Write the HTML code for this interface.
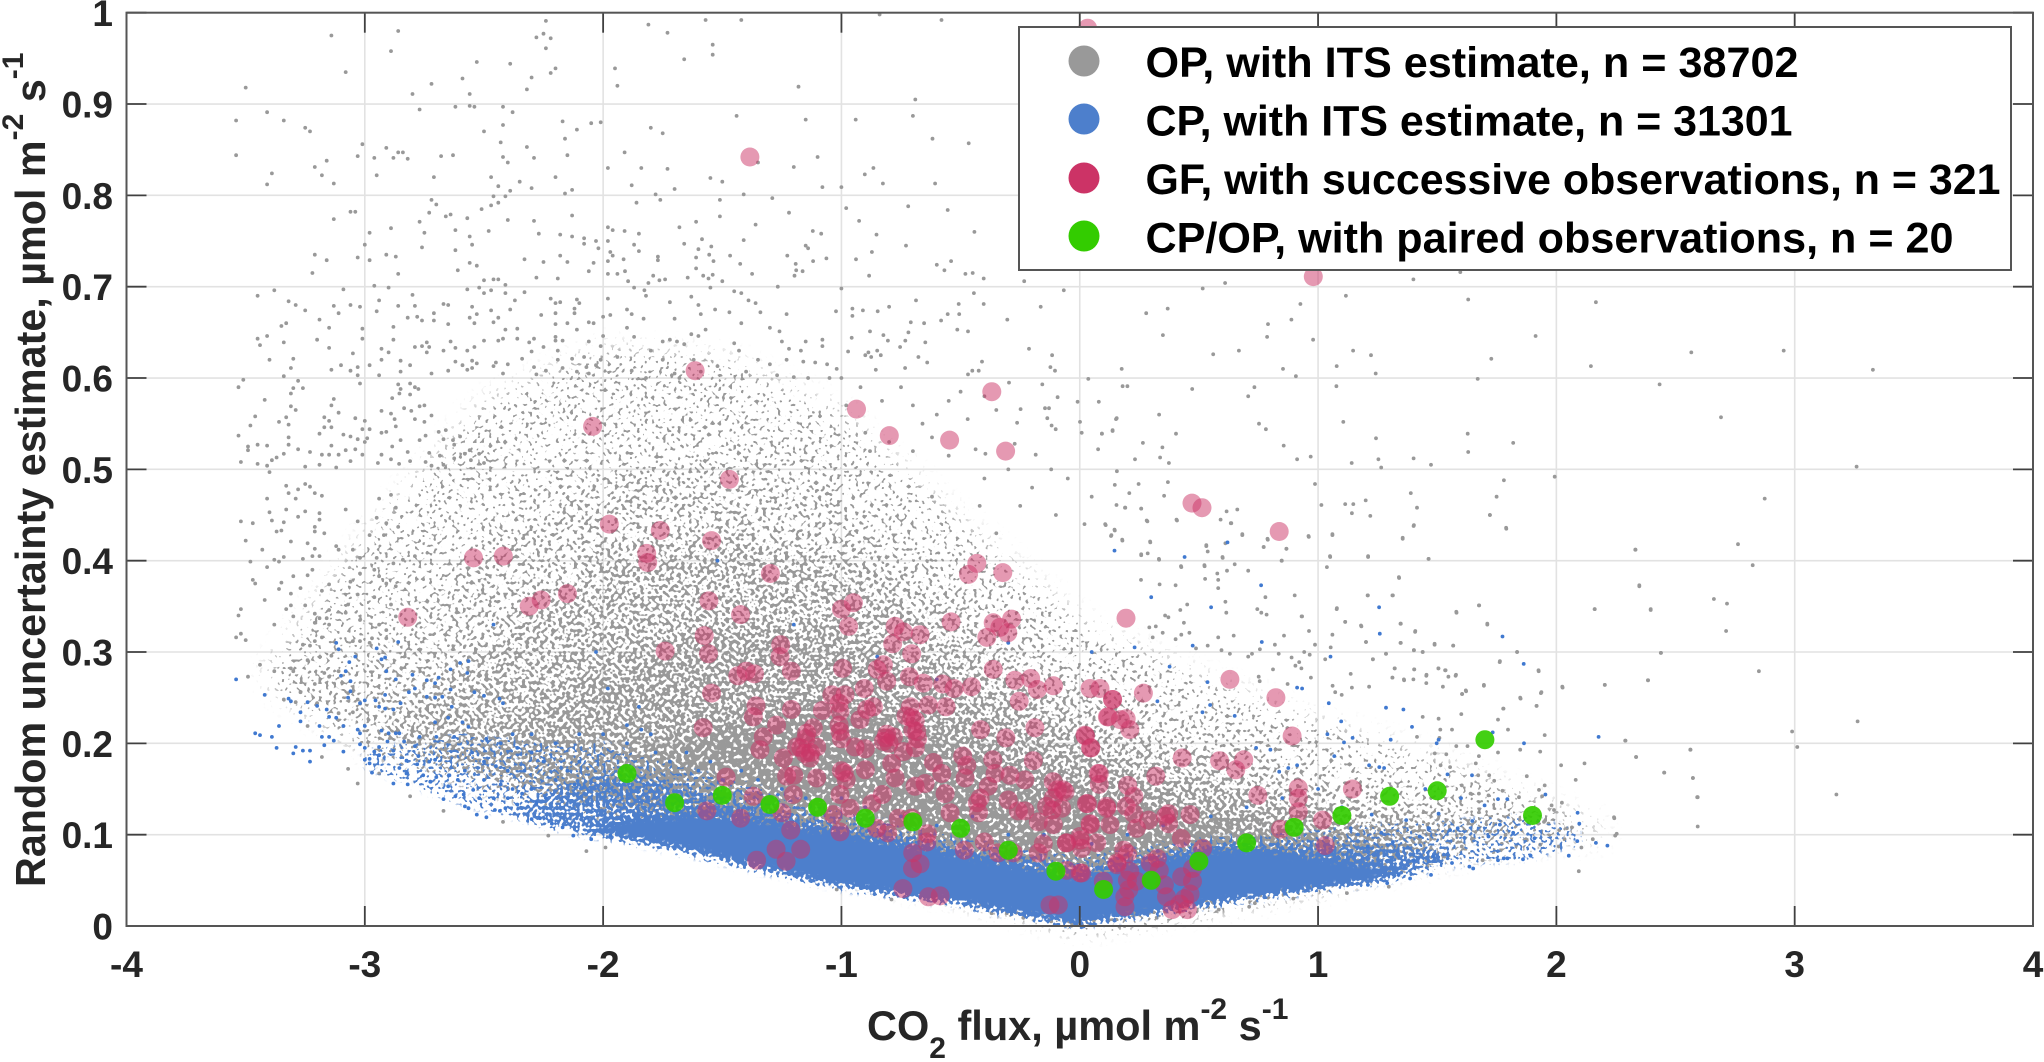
<!DOCTYPE html>
<html>
<head>
<meta charset="utf-8">
<title>Random uncertainty estimate vs CO2 flux</title>
<style>
html,body{margin:0;padding:0;background:#fff}
svg{display:block}
text{font-family:"Liberation Sans",sans-serif;font-weight:bold}
</style>
</head>
<body>
<svg id="chart" xmlns="http://www.w3.org/2000/svg" width="2044" height="1062" viewBox="0 0 2044 1062">
<defs>
<filter id="gray-dither" filterUnits="userSpaceOnUse" x="0" y="0" width="2044" height="1062" color-interpolation-filters="sRGB">
<feGaussianBlur in="SourceAlpha" stdDeviation="12" result="density"/>
<feTurbulence type="fractalNoise" baseFrequency="0.27" numOctaves="1" seed="7" result="noise"/>
<feColorMatrix in="noise" type="matrix" values="0 0 0 0 0  0 0 0 0 0  0 0 0 0 0  3 0 0 0 -1" result="noiseAlpha"/>
<feComposite in="density" in2="noiseAlpha" operator="arithmetic" k1="0" k2="1" k3="1" k4="-1" result="raw"/>
<feComponentTransfer in="raw" result="mask"><feFuncA type="linear" slope="7" intercept="0"/></feComponentTransfer>
<feFlood flood-color="#999999" result="ink"/>
<feComposite in="ink" in2="mask" operator="in"/>
</filter>
<filter id="blue-dither" filterUnits="userSpaceOnUse" x="0" y="0" width="2044" height="1062" color-interpolation-filters="sRGB">
<feGaussianBlur in="SourceAlpha" stdDeviation="3.5" result="density"/>
<feTurbulence type="fractalNoise" baseFrequency="0.3" numOctaves="1" seed="23" result="noise"/>
<feColorMatrix in="noise" type="matrix" values="0 0 0 0 0  0 0 0 0 0  0 0 0 0 0  3 0 0 0 -1" result="noiseAlpha"/>
<feComposite in="density" in2="noiseAlpha" operator="arithmetic" k1="0" k2="1.15" k3="1" k4="-1" result="raw"/>
<feComponentTransfer in="raw" result="mask"><feFuncA type="linear" slope="7" intercept="0"/></feComponentTransfer>
<feFlood flood-color="#4d7fcc" result="ink"/>
<feComposite in="ink" in2="mask" operator="in"/>
</filter>
</defs>
<g id="grid"></g>
<g id="bands-gray" filter="url(#gray-dither)"></g>
<g id="marks-gray"></g>
<g id="bands-blue" filter="url(#blue-dither)"></g>
<g id="marks-blue"></g>
<g id="marks-red"></g>
<g id="marks-green"></g>
<g id="axes"></g>

<text x="867" y="1040" font-size="41.5" fill="#262626">CO<tspan font-size="30" dy="18">2</tspan><tspan dy="-18"> flux, µmol m</tspan><tspan font-size="30" dy="-21">-2</tspan><tspan dy="21"> s</tspan><tspan font-size="30" dy="-21">-1</tspan></text>
<text transform="translate(45,887) rotate(-90)" font-size="41.3" fill="#262626">Random uncertainty estimate, µmol m<tspan font-size="30" dy="-22">-2</tspan><tspan dy="22"> s</tspan><tspan font-size="30" dy="-22">-1</tspan></text>

<g>
<rect x="1019" y="27" width="992" height="243" fill="#fff" stroke="#555" stroke-width="2"/>
<g><circle cx="1084" cy="61" r="15.5" fill="#999"/><text x="1145.5" y="77" font-size="43" fill="#000" textLength="653" lengthAdjust="spacingAndGlyphs">OP, with ITS estimate, n = 38702</text></g>
<g><circle cx="1084" cy="119" r="15.5" fill="#4d7fcc"/><text x="1145.5" y="135.5" font-size="43" fill="#000" textLength="647" lengthAdjust="spacingAndGlyphs">CP, with ITS estimate, n = 31301</text></g>
<g><circle cx="1084" cy="178" r="15.5" fill="#cc3366"/><text x="1145.5" y="194" font-size="43" fill="#000" textLength="855" lengthAdjust="spacingAndGlyphs">GF, with successive observations, n = 321</text></g>
<g><circle cx="1084" cy="236" r="15.5" fill="#33cc00"/><text x="1145.5" y="252.5" font-size="43" fill="#000" textLength="808" lengthAdjust="spacingAndGlyphs">CP/OP, with paired observations, n = 20</text></g>
</g>

<script>
const xTickLabels = ['-4','-3','-2','-1','0','1','2','3','4'];
const xTickValues = [-4,-3,-2,-1,0,1,2,3,4];
const yTickLabels = ['0','0.1','0.2','0.3','0.4','0.5','0.6','0.7','0.8','0.9','1'];
const yTickValues = [0,0.1,0.2,0.3,0.4,0.5,0.6,0.7,0.8,0.9,1];

const grayFluxStops = [-3.4,-3.0,-2.5,-2,-1.5,-1,-0.5,0,0.5,1,1.5,2,2.2];
const grayLower     = [0.27,0.2,0.16,0.13,0.1,0.065,0.04,0.005,0.025,0.05,0.08,0.1,0.1];
const grayLevel1Top = [0.28,0.42,0.57,0.63,0.62,0.56,0.44,0.33,0.27,0.22,0.18,0.125,0.105];
const grayLevel2Top = [0.27,0.28,0.42,0.5,0.52,0.47,0.37,0.27,0.22,0.17,0.14,0.11,0.1];
const grayLevel3Top = [0.27,0.2,0.3,0.4,0.43,0.4,0.31,0.225,0.18,0.14,0.115,0.1,0.1];
const grayLevel4Top = [0.27,0.2,0.2,0.28,0.33,0.32,0.25,0.18,0.145,0.115,0.1,0.1,0.1];
const grayLevel5Top = [0.27,0.2,0.16,0.17,0.22,0.24,0.19,0.145,0.12,0.1,0.08,0.1,0.1];

const blueFluxStops = [-3.0,-2.6,-2.3,-2,-1.7,-1.4,-1,-0.5,0,0.5,1,1.3,1.6,1.9,2.1];
const blueHaloTop   = [0.19,0.21,0.2,0.2,0.175,0.155,0.125,0.095,0.075,0.095,0.105,0.11,0.115,0.12,0.1];
const blueHaloLow   = [0.175,0.135,0.115,0.098,0.082,0.064,0.043,0.024,0.001,0.022,0.04,0.052,0.068,0.075,0.09];
const blueMidFlux   = [-2.4,-2.2,-2,-1.8,-1.5,-1.1,-0.6,0,0.6,1,1.3,1.55];
const blueMidTop    = [0.125,0.15,0.165,0.16,0.14,0.115,0.09,0.065,0.09,0.09,0.088,0.08];
const blueMidLow    = [0.125,0.108,0.098,0.09,0.072,0.048,0.028,0.001,0.026,0.04,0.052,0.07];
const blueCoreFlux  = [-2.1,-1.9,-1.6,-1.3,-1,-0.7,-0.5,-0.3,-0.1,0,0.1,0.3,0.5,0.7,1,1.2,1.4];
const blueCoreTop   = [0.105,0.118,0.122,0.115,0.1,0.088,0.078,0.068,0.058,0.053,0.058,0.072,0.082,0.084,0.075,0.068,0.058];
const blueCoreLow   = [0.105,0.096,0.08,0.06,0.043,0.031,0.024,0.014,0.005,0.001,0.006,0.014,0.022,0.03,0.04,0.047,0.058];

const grayPoints = [
[-3.5,.918],[-3.14,.975],[-3.08,.935],[-2.86,.98],[-2.89,.958],[-3.54,.882],[-3.54,.844],[-3.41,.891],[-3.34,.882],[-3.25,.874],[-3.23,.87],[-3.41,.812],[-3.39,.824],[-3.21,.831],[-3.16,.838],[-3.18,.822],[-3.13,.813],[-3.03,.843],[-3.01,.856],[-2.96,.841],[-2.91,.852],[-2.88,.841],[-2.86,.847],[-2.84,.847],[-2.82,.84],[-2.95,.822],[-2.71,.82],[-2.68,.843],[-2.63,.844],[-2.8,.911],[-2.77,.894],[-2.72,.922],[-2.62,.897],[-2.59,.928],[-2.56,.898],[-2.56,.911],[-2.54,.897],[-2.53,.946],[-2.39,.944],[-2.42,.897],[-2.38,.891],[-2.42,.877],[-2.5,.87],[-2.43,.858],[-2.32,.853],[-2.42,.842],[-2.4,.836],[-2.29,.841],[-2.15,.844],[-2.16,.862],[-2.17,.881],[-2.11,.872],[-2.05,.879],[-2.01,.88],[-2.32,.916],[-2.3,.929],[-2.22,.934],[-2.2,.939],[-2.24,.961],[-2.22,.972],[-2.25,.977],[-2.28,.973],[-2.24,.991],[-1.95,.939],[-1.94,.92],
[-2.47,.82],[-2.44,.81],[-2.39,.805],[-2.35,.815],[-2.3,.808],[-2.2,.82],[-2.16,.802],[-2.13,.806],[-1.98,.83],
[-3.13,.774],[-3.06,.782],[-3.04,.782],[-3.21,.735],[-3.16,.729],[-3.22,.715],[-2.98,.759],[-3.0,.746],[-3.03,.732],[-2.98,.729],[-2.89,.764],[-2.91,.735],[-2.87,.733],[-2.86,.714],[-2.77,.771],[-2.75,.759],[-2.76,.743],[-2.73,.781],[-2.72,.795],[-2.7,.79],[-2.66,.777],[-2.64,.779],[-2.62,.762],[-2.62,.74],[-2.61,.718],[-2.57,.775],[-2.56,.755],[-2.55,.746],[-2.51,.785],[-2.48,.761],[-2.47,.789],[-2.44,.792],[-2.46,.799],[-2.41,.799],[-2.4,.773],[-2.29,.772],[-2.27,.758],[-2.13,.778],[-2.18,.757],[-2.13,.755],[-2.08,.753],[-2.08,.747],[-2.03,.75],[-2.02,.742],[-1.98,.75],[-1.98,.765],[-1.96,.762],[-1.97,.738],[-1.96,.734],[-1.98,.728],[-2.04,.726],[-2.06,.717],[-2.18,.734],[-2.15,.727],[-2.25,.727],[-2.33,.73],[-2.56,.726],[-2.53,.723],[-2.28,.71],[-2.19,.709],[-2.5,.707],[-2.46,.708],[-2.44,.708],[-2.41,.702],[-1.98,.714],[-1.94,.714],
[-3.45,.69],[-3.38,.696],[-3.32,.684],[-3.29,.68],[-3.25,.674],[-3.13,.679],[-3.11,.671],[-3.09,.697],[-3.06,.68],[-3.02,.678],[-2.96,.701],[-2.94,.685],[-2.95,.673],[-2.9,.699],[-2.86,.679],[-2.79,.679],[-2.8,.691],[-2.82,.666],[-2.78,.667],[-2.76,.663],[-2.71,.671],[-2.71,.663],[-2.67,.681],[-2.65,.68],[-2.65,.659],[-2.57,.697],[-2.55,.678],[-2.52,.699],[-2.5,.693],[-2.47,.696],[-2.41,.693],[-2.33,.694],[-2.37,.685],[-2.39,.675],[-2.47,.674],[-2.44,.666],[-2.53,.67],[-2.56,.666],[-2.54,.66],[-2.46,.661],[-2.22,.687],[-2.2,.682],[-2.18,.683],[-2.11,.686],[-2.1,.682],[-2.12,.676],[-2.12,.671],[-2.26,.669],[-2.2,.671],[-1.98,.687],[-2,.667],[-1.97,.669],[-2.06,.661],[-2.04,.66],[-2.15,.66],[-2.2,.659],
[-3.45,.643],[-3.44,.636],[-3.41,.646],[-3.34,.639],[-3.35,.657],[-3.33,.66],[-3.19,.664],[-3.15,.655],[-3.2,.642],[-3.15,.633],[-3.4,.62],[-3.3,.621],[-3.31,.611],[-3.34,.602],[-3.14,.609],[-3.1,.614],[-3.06,.608],[-3.03,.612],[-3.03,.603],[-3.05,.627],[-3.01,.654],[-3.01,.643],[-2.98,.614],[-2.93,.632],[-2.93,.62],[-2.88,.656],[-2.88,.642],[-2.9,.628],[-2.85,.619],[-2.81,.614],[-2.85,.607],[-2.94,.603],[-2.79,.634],[-2.76,.635],[-2.74,.639],[-2.73,.634],[-2.74,.628],[-2.67,.63],[-2.64,.64],[-2.62,.633],[-2.57,.63],[-2.54,.634],[-2.62,.618],[-2.59,.614],[-2.55,.619],[-2.53,.616],[-2.55,.611],[-2.57,.609],[-2.65,.608],[-2.72,.605],[-2.5,.641],[-2.44,.641],[-2.42,.643],[-2.41,.653],[-2.36,.654],[-2.36,.643],[-2.31,.639],[-2.29,.643],[-2.3,.629],[-2.25,.634],[-2.34,.621],[-2.4,.615],[-2.45,.617],[-2.46,.613],[-2.42,.605],[-2.29,.612],[-2.28,.604],[-2.24,.608],[-2.2,.645],[-2.2,.641],[-2.17,.641],[-2.06,.64],[-2.11,.653],[-2.19,.63],[-2.19,.62],[-2.13,.621],[-2.08,.623],[-2.01,.62],[-2.01,.635],[-2,.646],[-2.07,.612],[-2.03,.614],[-2.17,.611],[-2.06,.605],[-2.11,.607],[-1.94,.623],
[-3.53,.59],[-3.51,.598],[-3.28,.597],[-3.30,.589],[-3.26,.589],[-3.31,.583],[-3.42,.576],[-3.13,.577],[-3.14,.57],[-3.31,.569],[-3.29,.565],[-3.46,.558],[-3.33,.557],[-3.48,.548],[-3.36,.552],[-3.32,.549],[-3.53,.537],[-3.32,.535],[-3.45,.527],[-3.41,.526],[-3.32,.527],[-3.49,.525],[-3.49,.521],[-3.28,.522],[-3.34,.517],[-3.37,.513],[-3.39,.51],[-3.52,.508],[-3.45,.506],[-3.41,.504],[-3.23,.519],[-3.25,.503],[-3.19,.539],[-3.17,.546],[-3.17,.557],[-3.15,.553],[-3.14,.546],[-3.11,.562],[-3.09,.538],[-3.06,.536],[-3.03,.533],[-3,.53],[-3.14,.526],[-3.18,.516],[-3.15,.516],[-3.11,.516],[-3.08,.521],[-3.04,.522],[-3.01,.516],[-3.06,.509],[-3.19,.505],[-3.12,.502],[-2.99,.534],[-2.98,.544],[-3.01,.544],[-3,.553],[-3.04,.556],[-3.02,.594],[-2.86,.593],[-2.85,.588],[-2.81,.594],[-2.79,.59],[-2.775,.588],[-2.855,.583],[-2.81,.582],[-2.885,.578],[-2.835,.567],[-2.93,.564],[-2.89,.561],[-2.805,.564],[-2.77,.569],[-2.75,.57],[-2.72,.559],[-2.875,.555],[-2.79,.555],[-2.75,.552],[-2.87,.547],[-2.93,.54],[-2.91,.541],[-2.85,.532],[-2.745,.537],[-2.77,.532],[-2.69,.541],[-2.66,.543],[-2.67,.533],[-2.63,.532],[-2.6,.536],[-2.625,.527],[-2.885,.525],[-2.82,.519],[-2.93,.516],[-2.89,.511],[-2.81,.509],[-2.945,.507],[-2.856,.506],[-2.73,.518],[-2.685,.515],[-2.745,.508],[-2.72,.504],[-2.67,.505],[-2.625,.512],[-2.58,.517],[-2.56,.521],[-2.52,.517],[-2.555,.51],[-2.5,.507],
[-3.4,.497],[-3.33,.482],[-3.32,.474],[-3.28,.478],[-3.25,.484],[-3.23,.481],[-3.21,.474],[-3.18,.471],[-3.41,.468],[-3.29,.468],[-3.4,.453],[-3.39,.444],[-3.52,.443],[-3.47,.441],[-3.37,.432],[-3.34,.442],[-3.35,.433],[-3.33,.456],[-3.28,.448],[-3.25,.454],[-3.19,.452],[-3.19,.445],[-3.21,.437],[-3.21,.432],[-3.17,.43],[-3.5,.422],[-3.31,.421],[-3.24,.419],[-3.43,.412],[-3.21,.413],[-3.12,.416],[-3.11,.412],[-3.48,.399],[-3.38,.401],[-3.36,.399],[-3.34,.404],[-3.26,.402],[-3.22,.405],[-3.19,.405],[-3.41,.393],[-3.22,.39],[-3.24,.384],[-3.3,.383],[-3.47,.379],[-3.46,.375],[-3.35,.376],[-3.36,.369],[-3.27,.37],[-3.18,.367],[-3.15,.374],[-3.42,.357],[-3.31,.364],[-3.31,.351],[-3.33,.347],[-3.25,.351],[-3.15,.346],[-3.52,.347],[-3.53,.34],[-3.3,.339],[-3.21,.342],[-3.16,.337],[-3.19,.337],[-3.38,.33],[-3.21,.332],[-3.15,.33],[-3.52,.32],[-3.54,.316],[-3.5,.313],[-3.18,.316],[-3.21,.312],[-3.26,.308],[-3.23,.307],[-3.14,.296],[-3.24,.291],[-3.44,.286],[-3.38,.279],[-3.31,.282],[-3.3,.279],[-3.49,.273],[-3.17,.277],[-3.15,.273],[-3.11,.279],[-3.21,.265],[-3.27,.256],[-3.34,.248],[-3.29,.245],[-3.2,.244],[-3.11,.233],[-3.05,.257],[-3.07,.255],[-3.03,.248],[-3.24,.219],[-3.09,.219],[-3.05,.234],[-3.18,.185],[-3.07,.172],[-3.03,.156],[-2.94,.167],[-2.81,.142],[-2.67,.126],[-2.42,.114],[-2.23,.099],[-2.07,.082],[-1.99,.086],
[-3.08,.456],[-3.03,.443],[-2.95,.447],[-2.91,.441],[-2.87,.458],[-2.89,.472],[-2.94,.468],[-2.98,.428],[-2.92,.428],[-2.86,.437],[-3.05,.412],[-3.02,.403],[-2.95,.403],[-2.88,.397],[-2.84,.401],[-2.79,.405],[-3.02,.386],[-2.96,.39],[-2.94,.383],[-2.91,.375],[-2.87,.372],[-3.06,.377],[-3.03,.363],[-2.96,.36],[-2.89,.352],[-3.07,.352],[-3.08,.343],[-3.02,.335],[-2.94,.33],[-2.91,.324],[-2.87,.339],[-2.97,.315],[-2.91,.315],[-3.05,.312],[-3.02,.312],[-2.98,.31],
[-1.81,.987],[-1.73,.978],[-1.57,.992],[-1.42,.992],[-1.66,.949],[-1.54,.965],[-1.54,.954],[-1.18,.919],[-.84,.998],[-.58,.992],[-.69,.905],[-.7,.887],[-.94,.883],[-1.15,.883],[-1.44,.887],[-1.8,.874],[-1.75,.868],[-1.91,.847],[-1.84,.83],[-1.73,.829],[-1.88,.811],[-1.7,.807],[-1.78,.801],[-1.76,.795],[-1.86,.792],[-1.55,.819],[-1.5,.815],[-1.41,.801],[-1.51,.795],[-1.51,.777],[-1.35,.836],[-1.2,.831],[-1.1,.842],[-1.08,.809],[-1,.809],[-1.29,.797],[-1.22,.781],[-1.36,.768],[-1.61,.771],[-1.68,.765],[-1.91,.761],[-1.85,.758],[-1.66,.747],[-1.585,.752],[-1.6,.741],[-1.546,.744],[-1.41,.751],[-1.555,.735],[-1.537,.728],[-1.61,.732],[-1.467,.734],[-1.425,.725],[-1.61,.72],[-1.58,.712],[-1.54,.713],[-1.558,.709],[-1.375,.714],[-1.645,.71],[-1.5,.706],[-1.55,.699],[-1.74,.708],[-1.764,.707],[-1.79,.712],[-1.81,.704],[-1.87,.699],[-1.827,.696],[-1.895,.706],[-1.908,.717],[-1.914,.73],[-1.87,.746],[-1.85,.739],[-1.77,.733],[-1.77,.729],[-1.12,.761],[-1.085,.758],[-1.15,.745],[-1.14,.742],[-1.227,.734],[-1.063,.731],[-1.192,.725],[-1.119,.728],[-1.19,.718],[-1.163,.717],[-1.197,.712],[-1.267,.7],[-1,.698],[-.98,.786],[-.926,.772],[-.853,.757],[-.72,.788],[-.554,.784],[-.442,.76],[-.729,.745],[-.872,.738],[-.939,.73],[-.884,.712],[-.6,.724],[-.568,.718],[-.54,.728],[-.48,.714],[-.449,.715],[-.403,.709],[-.233,.706],[-.067,.696],[-.618,.862],[-.466,.857],[-.902,.823],[-.866,.83],[-.826,.813],[-.607,.813],[-.444,.693],[-.403,.681],[-.508,.681],[-.506,.67],[-.554,.67],[-.582,.663],[-.687,.685],[-.8,.678],[-.848,.673],[-.91,.674],[-.954,.676],[-.954,.668],[-1.023,.673],[-.304,.664],[-.164,.678],[-.514,.653],[-.469,.651],[-.709,.661],[-.653,.66],[-.719,.65],[-.88,.651],[-.957,.644],[-.824,.647],[-.805,.641],[-.732,.641],[-.648,.639],[-.754,.634],[-.213,.632],[-.116,.625],[-.41,.618],[-.677,.623],[-.64,.617],[-.733,.611],[-.856,.609],[-.972,.629],[-.9,.625],[-.887,.628],[-.875,.623],[-.85,.63],[-.835,.625],[-.123,.612],[-.104,.608],[.036,.599],[-.451,.608],[-.469,.604],[-.424,.608],
[-1.82,.69],[-1.72,.683],[-1.7,.665],[-1.63,.689],[-1.6,.68],[-1.59,.67],[-1.45,.695],[-1.42,.693],[-1.39,.685],[-1.36,.682],[-1.34,.672],[-1.23,.67],[-1.53,.675],[-1.47,.672],[-1.42,.66],[-1.3,.655],[-1.26,.651],[-1.25,.64],[-1.9,.675],[-1.88,.67],[-1.83,.665],[-1.9,.655],[-1.87,.645],[-1.75,.64],[-1.72,.642],[-1.69,.64],[-1.63,.648],[-1.6,.646],[-1.57,.653],[-1.8,.63],[-1.66,.637],[-1.45,.638],[-1.43,.63],[-1.22,.632],[-1.17,.63],[-1.15,.64],[-1.08,.642],[-1.08,.635],[-1.16,.618],[-1.11,.617],[-1.06,.615],[-1.23,.62],[-1.3,.615],[-1.35,.62],[-1.4,.607],[-1.52,.613],[-1.59,.607],[-1.62,.62],[-1.75,.62],[-1.82,.6],[-1.88,.608],[-1.7,.605],[-1.68,.6],[-1.27,.603],[-1.2,.601],[-1.14,.6],[-1.05,.6],[-1.02,.61],[-1,.6],
[.61,.704],[.516,.698],[.279,.671],[.369,.676],[.349,.647],[.56,.626],[.668,.63],[.786,.645],[.79,.659],[.888,.664],[.926,.681],[.979,.642],[1.117,.69],[1.4,.708],[1.597,.716],[1.63,.686],[2.166,.683],[1.913,.646],[2.145,.613],[1.727,.621],[1.67,.599],[1.242,.605],[1.222,.625],[1.147,.63],[1.078,.613],[1.077,.591],[.907,.602],[.853,.61],[.733,.59],[.707,.58],[.472,.588],[.176,.61],[.18,.591],[.2,.591],[.152,.555],[.138,.542],[.093,.539],[.333,.56],[.404,.539],[.265,.529],[.347,.524],[.232,.511],[.337,.513],[.374,.507],[.752,.55],[.781,.544],[.856,.526],[.912,.511],[.969,.514],[1.106,.552],[1.243,.534],[1.141,.507],[1.253,.511],[1.265,.502],[1.401,.512],[1.474,.505],[1.628,.539],[1.63,.519],[1.819,.529],[1.993,.492],[1.78,.488],[1.749,.47],[1.721,.45],[1.79,.435],[1.389,.474],[1.415,.458],[1.401,.438],[1.355,.424],[1.464,.402],[1.21,.404],[1.2,.466],[1.114,.462],[1.148,.462],[1.142,.452],[1.219,.449],[1.014,.461],[.987,.484],[1.06,.428],[.961,.426],[1.051,.404],[1.037,.393],[1.34,.381],[1.208,.362],[1.312,.362],[1.675,.351],[1.581,.343],[1.71,.33],[2.161,.347],[1.078,.347],[1.114,.333],[1.182,.328],[1.346,.331],[1.407,.322],[1.201,.311],[1.346,.31],[1.489,.308],[1.567,.307],[1.835,.3],[1.762,.289],[1.926,.279],[1.696,.263],[2.026,.261],[1.935,.255],[1.85,.249],[1.917,.241],[1.777,.238],[1.505,.282],[1.533,.28],[1.547,.273],[1.577,.274],[1.454,.274],[1.404,.281],[1.321,.282],[1.312,.272],[1.361,.269],[1.4,.27],[1.454,.266],[1.524,.262],[1.214,.262],[1.142,.261],[1.137,.276],[1.072,.256],[1.099,.253],[1.061,.263],[1.621,.257],[1.605,.254],[1.23,.292],[1.285,.298],[1.402,.302],[1.439,.3],[1.06,.319],[1.053,.305],[1.03,.292],[.987,.308],[.962,.323],[.931,.339],[.902,.362],[.847,.4],[.867,.413],[.789,.423],[.772,.415],[.682,.428],[.636,.441],[.661,.456],[.616,.454],[.591,.445],[.611,.419],[.531,.416],[.537,.41],[.6,.403],[.65,.396],[.707,.389],[.618,.389],[.577,.386],[.581,.379],[.524,.394],[.426,.393],[.333,.401],[.285,.408],[.258,.406],[.296,.42],[.258,.457],[.19,.458],[.154,.461],[.208,.474],[.247,.484],[.147,.483],[.156,.498],[.37,.486],[.354,.471],[.408,.444],[.281,.444],[.109,.439],[.147,.433],[.131,.427],[.179,.422],[.257,.379],[.335,.374],[.402,.373],[.526,.38],[.581,.37],[.779,.36],[.745,.347],[.762,.343],[.784,.341],[.933,.339],[.611,.355],[.615,.343],[.451,.352],[.422,.346],[.437,.332],[.46,.321],[.358,.34],[.372,.338],[.292,.327],[.319,.328],[.348,.321],[.306,.316],[.402,.314],[.426,.319],[.581,.316],[.646,.318],[.819,.308],[.857,.318],[.595,.302],[.537,.307],[.488,.304],[.756,.303],[.723,.298],[.835,.298],[.63,.298],[.707,.295],[.889,.294],[.942,.3],[.965,.297],[.921,.289],[.905,.285],[.93,.282],[.811,.281],[.751,.273],[.755,.268],[.97,.272],[.872,.265],
[-.297,.595],[-.157,.593],[-.093,.579],[-.009,.574],[.08,.574],[.155,.556],[-.248,.566],[-.146,.567],[-.129,.567],[-.136,.556],[-.118,.548],[-.101,.544],[-.263,.551],[.001,.552],[.008,.54],[.093,.539],[.138,.543],[.077,.522],[-.185,.516],[-.273,.528],[-.396,.517],[-.437,.522],[-.6,.56],[-.55,.575],[-.5,.585],[-.47,.555],[-.75,.59],[-.7,.57],[-.66,.55],[-.62,.535],[-.83,.575],[-.92,.59],[-.98,.57],[-.4,.58],[-.35,.565],[-.7,.52],[-.55,.515],[-.8,.53],[-.9,.54],[-.88,.52],[-.3,.5],[-.2,.48],[-.12,.5],[-.05,.49],[.05,.47],[-.4,.49],[-.25,.46],[-.1,.45],[.02,.44],[-.35,.43],[-.42,.46],[-.62,.47],
[.107,.44],[.191,.458],[.258,.457],[.406,.445],[.284,.443],[.146,.434],[.178,.423],[.295,.421],[.133,.428],[.258,.407],[.332,.402],[.425,.394],[.523,.395],[.599,.404],[.531,.417],[.634,.441],[.682,.429],[.772,.415],[.867,.413],[.788,.424],[.848,.4],[.96,.427],[1.06,.429],[1.05,.405],[1.21,.405],[1.355,.425],[1.402,.439],[1.464,.402],[1.721,.45],[1.789,.436],[2.332,.412],[2.348,.372],[2.161,.347],[2.396,.347],[2.439,.299],[2.385,.269],[2.203,.264],[2.025,.262],[1.925,.28],[1.937,.256],[1.848,.25],[1.917,.241],[1.778,.238],[1.755,.226],[1.797,.215],[1.951,.209],[2.29,.203],[2.335,.185],[2.563,.193],[2.452,.168],[2.573,.162],[2.593,.141],[2.593,.109],[2.118,.178],[2.02,.176],[2.081,.16],[2.243,.118],[2.253,.101],[2.247,.099],[2.153,.095],[2.105,.086],[2.01,.087],[2.094,.06],[2.044,.107],[2.012,.105],[2.065,.108],[2.034,.095],[1.967,.112],[1.99,.127],[2.023,.135],[1.951,.154],[1.876,.164],[1.932,.191],[1.848,.193],[1.755,.19],[1.676,.351],[1.71,.331],[1.58,.344],[1.763,.29],[1.835,.3],[1.489,.309],[1.567,.307],[1.408,.323],[1.402,.302],[1.439,.3],[1.347,.31],[1.347,.331],[1.314,.362],[1.339,.382],[1.209,.362],[1.079,.348],[1.114,.333],[1.18,.329],[1.201,.311],[1.285,.298],[1.23,.292],[1.322,.282],[1.312,.272],[1.36,.27],[1.403,.281],[1.455,.275],[1.505,.282],[1.535,.28],[1.579,.275],[1.604,.254],[1.62,.258],[1.696,.264],[1.601,.232],[1.439,.229],[1.506,.227],[1.513,.215],[1.562,.215],[1.509,.206],[1.415,.207],[1.627,.197],[1.58,.197],[1.49,.189],[1.538,.188],[1.675,.186],[1.662,.178],[1.672,.165],[1.718,.165],[1.739,.159],[1.514,.176],[1.554,.174],[1.603,.154],[1.64,.145],[1.675,.145],[1.715,.143],[1.774,.148],[1.843,.141],[1.927,.149],[1.94,.142],[1.98,.132],[1.948,.114],[1.932,.089],[1.876,.094],[1.787,.1],[1.771,.09],[1.691,.072],[1.603,.087],[1.53,.076],[1.458,.065],[1.386,.069],[1.297,.043],[1.121,.036],[.896,.03],[.735,.025],[.711,.021],[.583,.018],[.323,.009],
[2.566,.628],[2.954,.63],[3.328,.609],[2.433,.593],[2.691,.557],[3.26,.503],[2.874,.468],[2.331,.412],[2.762,.418],[2.824,.395],[2.348,.373],[2.661,.358],[2.716,.353],[2.396,.346],[2.712,.323],[2.438,.299],[2.85,.279],[2.384,.269],[2.203,.264],[2.989,.213],[3.264,.224],[3.011,.196],[2.289,.203],[2.562,.193],[2.334,.185],[2.453,.168],[2.573,.162],[2.591,.141],[3.175,.144],[2.242,.119],
[-1.02,.04],[-.79,.029],[-.37,.014],[-.306,.014],[-.237,.009],[-.12,.005]
];

const bluePoints = [
[-3.12,.31],[-3.11,.303],[-3.54,.27],[-3.42,.253],[-3.32,.249],[-3.31,.246],[-3.24,.245],[-3.2,.241],[-3.27,.234],[-3.16,.237],[-3.15,.229],[-3.12,.228],[-3.27,.224],[-3.19,.219],[-3.36,.219],[-3.46,.211],[-3.44,.209],[-3.39,.207],[-3.37,.195],[-3.29,.196],[-3.3,.189],[-3.26,.192],[-3.23,.192],[-3.23,.18],[-3.18,.207],[-3.15,.207],[-3.13,.203],[-3.17,.198],[-3.09,.219],[-3.09,.191],[-3.03,.215],[-3.02,.211],[-3,.219],[-3.02,.199],[-3,.195],[-3,.182],[-2.98,.178],[-2.98,.183],[-2.96,.191],[-2.94,.196],[-2.94,.187],[-2.97,.168],[-2.93,.214],[-2.9,.211],[-2.87,.211],[-2.855,.211],[-2.905,.202],[-2.88,.192],[-2.835,.202],[-2.79,.197],[-2.88,.237],[-2.94,.24],[-2.915,.238],[-2.85,.244],[-2.955,.247],[-2.915,.253],[-2.815,.256],[-2.79,.26],[-2.87,.27],[-2.8,.275],[-2.91,.279],[-2.93,.292],[-2.915,.294],[-3.04,.295],[-3.065,.289],[-3.08,.279],[-3.1,.274],[-3.06,.268],[-3.07,.25],[-3.06,.257],[-3.02,.244],[-3.0,.247],[-2.86,.311],[-2.95,.304],[-2.74,.269],[-2.705,.266],[-2.69,.272],[-2.74,.251],[-2.705,.25],[-2.675,.251],[-2.64,.259],[-2.57,.277],[-2.64,.281],[-2.6,.288],[-2.565,.29],[-2.54,.256],[-2.5,.252],[-2.435,.249],[-2.42,.244],[-2.635,.24],[-2.705,.223],[-2.65,.228],[-2.59,.223],[-2.7,.207],[-2.625,.207],[-2.565,.218],[-2.77,.207],[-2.775,.186],[-2.825,.181],[-2.78,.177],[-2.73,.18],[-2.705,.182],[-2.855,.173],[-2.825,.167],[-2.755,.165],[-2.7,.163],[-2.88,.156],[-2.82,.155],[-2.725,.158],[-2.65,.153],[-2.645,.165],[-2.61,.16],[-2.545,.149],[-2.62,.142],[-2.585,.144],[-2.67,.139],[-2.58,.131],[-2.565,.129],[-2.53,.122],[-2.49,.119],[-2.454,.127],[-2.433,.126],[-2.41,.129],[-2.36,.133],[-2.3,.117],[-2.265,.118],[-2.215,.112],[-2.17,.108],[-2.125,.099],[-2.05,.095],[-1.97,.099],
[-2.49,.205],[-2.43,.2],[-2.38,.21],[-2.36,.195],[-2.3,.19],[-2.25,.18],[-2.55,.19],[-2.5,.18],[-2.45,.175],[-2.4,.17],[-2.33,.17],[-2.58,.17],[-2.5,.16],[-2.43,.155],[-2.38,.15],[-2.52,.14],[-2.46,.14],[-2.4,.14],[-2.34,.145],[-2.3,.15],[-2.28,.135],[-2.24,.14],[-2.2,.16],[-2.15,.17],[-2.12,.155],[-2.1,.18],[-2.3,.21],[-2.2,.2],[-2.1,.21],[-2.0,.21],[-1.9,.2],[-2.46,.33],[-2.03,.3],[-1.98,.26],[-1.85,.24],[-1.8,.21],
[.146,.411],[.44,.404],[.761,.373],[.551,.349],[1.256,.349],[1.259,.32],[.764,.311],[1.774,.317],[.23,.305],[.474,.307],[1.863,.287],[1.052,.295],[.377,.284],[.536,.267],[.912,.261],[.933,.26],[1.045,.244],[1.285,.239],[1.358,.237],[.547,.242],[.326,.246],[.515,.234],[.65,.23],[1.394,.218],[1.097,.224],[2.177,.207],[1.864,.2],[1.733,.212],[1.506,.204],[1.498,.2],[1.305,.204],[1.145,.206],[1.109,.201],[1.039,.21],[1.068,.186],[1.214,.176],[1.257,.174],[1.277,.173],[1.543,.166],[1.646,.165],[.875,.173],[.912,.176],[.837,.169],[.8,.193],[.74,.195],[1.954,.144],[1.755,.139],[1.794,.139],[1.699,.132],[2.089,.124],[2.096,.112],[2.088,.093],[2.166,.091],[2.214,.088],[2.052,.077],[1.892,.077],[1.86,.073],[1.795,.074],[1.755,.072],[1.779,.074],[1.651,.063],[1.635,.065],[1.562,.069],[1.474,.056],[1.386,.052],[1.338,.056],[1.209,.045],[1.29,.047],[1.402,.072],[1.482,.076],[1.554,.105],[1.586,.107],[1.647,.115],[1.715,.098],[1.763,.111],[1.819,.102],[1.908,.096],[1.506,.123],[1.466,.107],[1.426,.098],[1.37,.116],[1.314,.092],[1.265,.102],[1.225,.122],[1.137,.107],[1.209,.087],
[-1.9,.22],[-1.84,.215],[-1.78,.19],[-1.72,.18],[-1.65,.19],[-1.6,.17],[-1.55,.18],[-1.5,.16],[-1.42,.17],[-1.35,.16],[-1.25,.15],[-1.15,.14],[-1,.14],[-.9,.13],[-.75,.12],[-.6,.11],[-.45,.12],[-.3,.1],[-.15,.1],[.05,.09],[.2,.1],[.35,.11],[.55,.12],[.7,.13],[.85,.14],[1,.15],[1.1,.13],[1.45,.15],[1.6,.14],
[-1.52,.4],[-1.2,.33],[-.85,.295],[-.6,.27],[-.3,.31],[.05,.3],[.3,.36],[.62,.42]
];

const redPoints = [
[-1.384,.842],[-1.614,.608],[-.937,.566],[-.799,.537],[-.546,.532],[-.311,.52],[-.369,.585],[.033,.983],[.471,.463],[.513,.458],[.837,.432],[.98,.711],[.194,.337],[.63,.27],[.823,.25],[.267,.255],[.138,.248],[-2.044,.547],[-2.82,.338],[-2.544,.403],[-2.419,.405],[-2.31,.35],[-2.26,.357],[-2.15,.364],[-1.974,.44],
[-1.47,.489],[-1.76,.433],[-1.545,.422],[-1.817,.408],[-1.813,.398],[-1.298,.386],[-1.556,.356],[-1.423,.341],[-1.576,.318],[-1.558,.298],[-1.74,.301],[-.95,.354],[-1,.347],[-.97,.328],[-1.255,.308],[-1.258,.295],[-1.21,.279],[-1.435,.274],[-1.40,.279],[-1.365,.276],[-1.545,.255],[-.995,.282],[-.824,.286],[-.85,.281],[-.81,.268],[-.904,.26],[-1.04,.253],[-.985,.253],[-1.01,.244],[-1.08,.236],[-1.006,.235],[-1.21,.237],[-1.358,.241],[-1.37,.229],[-1.272,.22],[-1.58,.217],[-.894,.237],[-.866,.24],[-.922,.226],[-.775,.328],[-.74,.322],[-.67,.319],[-.785,.309],[-.705,.298],[-.715,.273],[-.656,.266],[-.575,.265],[-.527,.26],[-.454,.262],[-.635,.242],[-.561,.24],[-.729,.23],[-.705,.228],[-.432,.397],[-.467,.385],[-.323,.387],[-.54,.333],[-.363,.332],[-.286,.336],[-.335,.327],[-.302,.321],[-.39,.316],[-.363,.281],[-.272,.269],[-.206,.271],[-.178,.259],[-.11,.263],[-.254,.246],[.043,.26],[.085,.26],[.138,.248],[.116,.229],[.17,.226],[-.416,.215],[-.31,.206],[-.188,.217],[.022,.209],[.047,.195],
[-1.146,.211],[-1.118,.217],[-1.006,.213],[-.814,.206],[-.782,.207],[-.824,.202],[-.684,.213],[-.74,.191],[-.9,.194],[-.943,.196],[-1.328,.207],[-1.342,.193],[-1.188,.196],[-1.153,.189],[-1.132,.184],[-1.104,.196],[-1.244,.184],[-1.23,.164],[-.988,.168],[-.9,.171],[-.789,.178],[-.775,.162],[-1.104,.162],[-.691,.153],[-.649,.156],[-.491,.186],[-.474,.176],[-.365,.182],[-.355,.167],[-.195,.181],[-.23,.16],[-.293,.165],[-.481,.162],[-.384,.153],[-.614,.179],[-.579,.167],[-.565,.145],[-.544,.124],[-.425,.124],[-.418,.14],[-.3,.138],[-.258,.126],[-.23,.126],[-.111,.158],[-.069,.149],[-.111,.14],[-.076,.129],[-.139,.131],[-.174,.114],[-.111,.111],[.033,.134],[.082,.167],[.082,.155],[.113,.129],
[-.828,.144],[-.873,.134],[-1.006,.144],[-1.202,.144],[-1.37,.142],[-1.484,.163],[-.964,.129],[-1.034,.122],[-1.25,.124],[-1.565,.126],[-1.423,.118],[-1.213,.105],[-1.006,.103],[-.761,.118],[-.705,.118],[-.852,.107],[-.806,.102],[-.639,.101],[-.642,.092],[-.701,.08],[-.67,.068],[-.702,.063],[-1.274,.084],[-1.171,.084],[-1.232,.071],[-1.356,.072],[-.742,.041],[-.635,.032],[-.586,.033],[-.484,.083],[-.4,.092],[-.342,.08],[-.279,.08],[-.174,.08],[-.153,.09],[-.055,.091],[.008,.085],[.071,.091],[-.055,.061],[.008,.058],[-.125,.023],[-.09,.023],[.099,.049],[.155,.069],[.127,.111],[.043,.112],[.001,.098],
[.12,.229],[.195,.227],[.21,.215],[.024,.208],[.045,.195],[.43,.184],[.587,.181],[.688,.182],[.655,.171],[.891,.208],[.077,.167],[.201,.154],[.227,.142],[.319,.164],[.747,.143],[.917,.151],[.917,.14],[.917,.125],[1.144,.15],[-.094,.149],[-.062,.147],[-.116,.127],[.028,.134],[.113,.131],[.195,.131],[.227,.123],[.373,.123],[.463,.122],[.373,.112],[.289,.116],[.238,.107],[.045,.111],[.002,.094],[-.056,.091],[.185,.083],[.2,.079],[.326,.074],[.296,.069],[.426,.096],[.516,.085],[.157,.067],[.002,.058],[.473,.063],[.428,.054],[.473,.049],[.206,.04],[.238,.049],[.189,.032],[.19,.021],[.364,.032],[.463,.035],[.42,.024],[.388,.018],[.452,.018],[.842,.106],[1.019,.116],[1.03,.088],[.355,.045],[.334,.061],
[-1.15,.205],[-1.13,.19],[-1.17,.195],[-1.01,.22],[-1.0,.205],[-.81,.21],[-.8,.2],[-.69,.225],[-.68,.205],[-.69,.195],[-1.0,.17],[-.98,.16],[-.71,.24],[-.7,.215],[-1.2,.165],[-.43,.135],[.36,.12],[.2,.05],[.21,.06],[.44,.03]
];

const pairedFlux = [-1.9,-1.7,-1.5,-1.3,-1.1,-0.9,-0.7,-0.5,-0.3,-0.1,0.1,0.3,0.5,0.7,0.9,1.1,1.3,1.5,1.7,1.9];
const pairedUncertainty = [0.167,0.135,0.143,0.133,0.13,0.118,0.114,0.107,0.083,0.06,0.04,0.05,0.071,0.091,0.108,0.121,0.142,0.148,0.204,0.121];

const NS = 'http://www.w3.org/2000/svg';
const plotLeft = 126.5, plotRight = 2033, plotTop = 12.7, plotBottom = 926;
function xScale(v){ return plotLeft + (v + 4) / 8 * (plotRight - plotLeft); }
function yScale(v){ return plotBottom - v * (plotBottom - plotTop); }
function make(tag, attrs){
  const el = document.createElementNS(NS, tag);
  for (const k in attrs) el.setAttribute(k, attrs[k]);
  return el;
}
const grid = document.getElementById('grid');
const axes = document.getElementById('axes');

xTickValues.forEach(function(v, i){
  const line = make('line', {x1:xScale(v), x2:xScale(v), y1:plotTop, y2:plotBottom, stroke:'#e2e2e2', 'stroke-width':1.6});
  
  
  grid.appendChild(line);
  [[plotBottom, plotBottom - 20], [plotTop, plotTop + 20]].forEach(function(p){
    const tick = make('line', {x1:xScale(v), x2:xScale(v), y1:p[0], y2:p[1], stroke:'#404040', 'stroke-width':1.8});
    
    
    axes.appendChild(tick);
  });
  const label = make('text', {x:xScale(v), y:977, 'font-size':37, fill:'#262626', 'text-anchor':'middle'});
  label.textContent = xTickLabels[i];
  
  
  axes.appendChild(label);
});
yTickValues.forEach(function(v, i){
  const line = make('line', {x1:plotLeft, x2:plotRight, y1:yScale(v), y2:yScale(v), stroke:'#e2e2e2', 'stroke-width':1.6});
  
  
  grid.appendChild(line);
  [[plotLeft, plotLeft + 20], [plotRight, plotRight - 20]].forEach(function(p){
    const tick = make('line', {x1:p[0], x2:p[1], y1:yScale(v), y2:yScale(v), stroke:'#404040', 'stroke-width':1.8});
    
    
    axes.appendChild(tick);
  });
  const label = make('text', {x:113, y:yScale(v) + 13.5, 'font-size':37, fill:'#262626', 'text-anchor':'end'});
  label.textContent = yTickLabels[i];
  
  
  axes.appendChild(label);
});
const frame = make('rect', {x:plotLeft, y:plotTop, width:plotRight - plotLeft, height:plotBottom - plotTop, fill:'none', stroke:'#555', 'stroke-width':2});


axes.appendChild(frame);

function bandPath(xs, lows, highs){
  const top = xs.map(function(x, i){ return xScale(x).toFixed(1) + ',' + yScale(highs[i]).toFixed(1); });
  const bottom = xs.map(function(x, i){ return xScale(x).toFixed(1) + ',' + yScale(lows[i]).toFixed(1); }).reverse();
  return 'M' + top.concat(bottom).join('L') + 'Z';
}
const grayBandLayer = document.getElementById('bands-gray');
const blueBandLayer = document.getElementById('bands-blue');

const grayBand1 = make('path', {d:bandPath(grayFluxStops, grayLower, grayLevel1Top), fill:'#000', 'fill-opacity':0.2});


grayBandLayer.appendChild(grayBand1);
const grayBand2 = make('path', {d:bandPath(grayFluxStops, grayLower, grayLevel2Top), fill:'#000', 'fill-opacity':0.15});


grayBandLayer.appendChild(grayBand2);
const grayBand3 = make('path', {d:bandPath(grayFluxStops, grayLower, grayLevel3Top), fill:'#000', 'fill-opacity':0.22});


grayBandLayer.appendChild(grayBand3);
const grayBand4 = make('path', {d:bandPath(grayFluxStops, grayLower, grayLevel4Top), fill:'#000', 'fill-opacity':0.28});


grayBandLayer.appendChild(grayBand4);
const grayBand5 = make('path', {d:bandPath(grayFluxStops, grayLower, grayLevel5Top), fill:'#000', 'fill-opacity':0.6});


grayBandLayer.appendChild(grayBand5);

const blueHalo = make('path', {d:bandPath(blueFluxStops, blueHaloLow, blueHaloTop), fill:'#000', 'fill-opacity':0.24});


blueBandLayer.appendChild(blueHalo);
const blueMid = make('path', {d:bandPath(blueMidFlux, blueMidLow, blueMidTop), fill:'#000', 'fill-opacity':0.5});


blueBandLayer.appendChild(blueMid);
const blueCore = make('path', {d:bandPath(blueCoreFlux, blueCoreLow, blueCoreTop), fill:'#000'});


blueBandLayer.appendChild(blueCore);

const grayLayer = document.getElementById('marks-gray');
grayPoints.forEach(function(p){
  const c = make('circle', {cx:xScale(p[0]).toFixed(1), cy:yScale(p[1]).toFixed(1), r:1.9, fill:'#999'});
  
  
  grayLayer.appendChild(c);
});
const blueLayer = document.getElementById('marks-blue');
bluePoints.forEach(function(p){
  const c = make('circle', {cx:xScale(p[0]).toFixed(1), cy:yScale(p[1]).toFixed(1), r:1.9, fill:'#4079d0'});
  
  
  blueLayer.appendChild(c);
});
const redLayer = document.getElementById('marks-red');
redPoints.forEach(function(p){
  const c = make('circle', {cx:xScale(p[0]).toFixed(1), cy:yScale(p[1]).toFixed(1), r:9.5, fill:'#cc3366', 'fill-opacity':0.5});
  
  
  redLayer.appendChild(c);
});
const greenLayer = document.getElementById('marks-green');
pairedFlux.forEach(function(x, i){
  const c = make('circle', {cx:xScale(x).toFixed(1), cy:yScale(pairedUncertainty[i]).toFixed(1), r:9.5, fill:'#33cc00', 'fill-opacity':0.92});
  
  
  greenLayer.appendChild(c);
});
</script>
</svg>
</body>
</html>
